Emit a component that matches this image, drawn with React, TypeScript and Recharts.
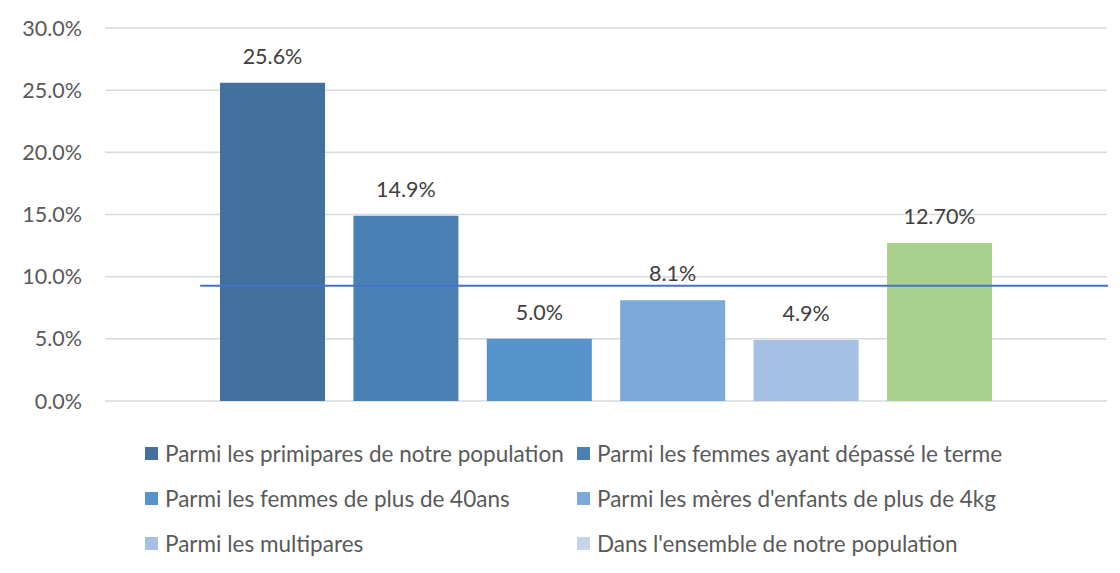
import React from "react";
import {
  BarChart,
  Bar,
  XAxis,
  YAxis,
  CartesianGrid,
  LabelList,
  Legend,
  ReferenceLine,
  Cell,
} from "recharts";

const categories = ["Taux"];
const seriesNames = [
  "Parmi les primipares de notre population",
  "Parmi les femmes ayant dépassé le terme",
  "Parmi les femmes de plus de 40ans",
  "Parmi les mères d'enfants de plus de 4kg",
  "Parmi les multipares",
  "Dans l'ensemble de notre population",
];
const seriesValues = [25.6, 14.9, 5.0, 8.1, 4.9, 12.7];
const labelDecimals = [1, 1, 1, 1, 1, 2];
const seriesColors = ["#41719C", "#4A81B5", "#5593CA", "#7BA9D9", "#A5C0E3", "#C5D5EB"];
const barOverrideColors = [null, null, null, null, null, "#A9D18E"];
const yTicks = [0, 5, 10, 15, 20, 25, 30];
const averageLineValue = 9.27;
const averageLineStartFraction = 0.095;

const data = categories.map((c) => {
  const row: Record<string, string | number> = { cat: c };
  seriesValues.forEach((v, i) => {
    row["s" + i] = v;
  });
  return row;
});

const FONT = "Lato, 'Open Sans', sans-serif";

const renderLegend = () => {
  return (
    <div style={{ position: "relative", width: 1120, height: 140, fontFamily: FONT }}>
      {seriesNames.map((name, i) => {
        const col = i % 2;
        const row = Math.floor(i / 2);
        const left = col === 0 ? 145 : 577;
        const top = 33 + row * 45;
        return (
          <div
            key={i}
            style={{
              position: "absolute",
              left,
              top: top - 13,
              height: 26,
              display: "flex",
              alignItems: "center",
              whiteSpace: "nowrap",
              fontSize: 22.5,
              color: "#595959",
            }}
          >
            <span
              style={{
                display: "inline-block",
                width: 13,
                height: 13,
                background: seriesColors[i],
                marginRight: 7,
              }}
            />
            <span>{name}</span>
          </div>
        );
      })}
    </div>
  );
};

const AverageLine = (p: any) => {
  const x1 = p.x1 + (p.x2 - p.x1) * averageLineStartFraction;
  return <line x1={x1} y1={p.y1} x2={p.x2 + 1} y2={p.y2} stroke="#4472C4" strokeWidth={2} />;
};

export default function App() {
  return (
    <div
      style={{
        position: "relative",
        width: 1120,
        height: 573,
        margin: -8,
        overflow: "hidden",
        background: "#fff",
      }}
    >
      <div
        style={{
          position: "absolute",
          left: 5,
          top: 5,
          width: 1300,
          height: 800,
          border: "2px solid #D9D9D9",
          boxSizing: "border-box",
        }}
      />
      <div style={{ position: "absolute", left: 0, top: 0 }}>
        <BarChart
          width={1120}
          height={573}
          data={data}
          margin={{ top: 28, right: 13, left: 15, bottom: 32 }}
          barSize={105}
          barGap={28.4}
        >
          <CartesianGrid vertical={false} stroke="#D9D9D9" strokeWidth={1.5} />
          <XAxis dataKey="cat" hide />
          <YAxis
            width={90}
            domain={[0, 30]}
            ticks={yTicks}
            axisLine={false}
            tickLine={false}
            tickMargin={17}
            tickFormatter={(v: number) => v.toFixed(1) + "%"}
            tick={{ fill: "#595959", fontSize: 21.5, fontFamily: FONT }}
          />
          {seriesNames.map((name, i) => (
            <Bar
              key={name}
              dataKey={"s" + i}
              name={name}
              fill={seriesColors[i]}
              isAnimationActive={false}
            >
              {data.map((_, j) => (
                <Cell key={j} fill={barOverrideColors[i] || seriesColors[i]} />
              ))}
              <LabelList
                dataKey={"s" + i}
                position="top"
                offset={19}
                formatter={(v: any) => Number(v).toFixed(labelDecimals[i]) + "%"}
                style={{ fill: "#404040", fontSize: 21.5, fontFamily: FONT }}
              />
            </Bar>
          ))}
          <ReferenceLine y={averageLineValue} shape={AverageLine} />
          <Legend
            content={renderLegend}
            verticalAlign="bottom"
            wrapperStyle={{ left: 0, top: 420, width: 1120, height: 140, bottom: "auto" }}
          />
        </BarChart>
      </div>
    </div>
  );
}
